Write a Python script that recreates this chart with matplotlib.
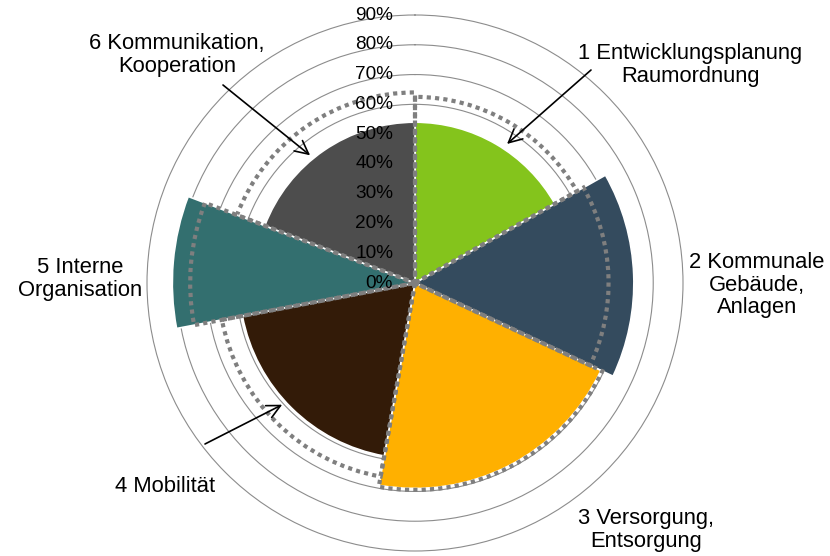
import matplotlib.pyplot as plt
import numpy as np
from matplotlib.transforms import offset_copy

plt.rcParams['font.family'] = ['Liberation Sans', 'DejaVu Sans']

# eea-Massnahmenbereiche, Sektorbreite nach max. Punkten
labels = ['1 Entwicklungsplanung\nRaumordnung', '2 Kommunale\nGebäude,\nAnlagen',
          '3 Versorgung,\nEntsorgung', '4 Mobilität', '5 Interne\nOrganisation',
          '6 Kommunikation,\nKooperation']
max_points = [84, 76, 104, 96, 44, 96]
erreicht = [54, 73.5, 69, 59, 81.5, 54]       # gefuellte Sektoren (%)
vorher = [62.5, 65, 69.5, 66, 75.5, 64]        # gepunktete Linie (%)
colors = ['#84C41C', '#344B5E', '#FFB000', '#331B08', '#336F6F', '#4D4D4D']
rticks = [0, 10, 20, 30, 40, 50, 60, 70, 80, 90]

w = np.array(max_points) / sum(max_points) * 2 * np.pi
left = np.concatenate([[0], np.cumsum(w)[:-1]])

fig = plt.figure(figsize=(8.3, 5.56), dpi=100)
ax = fig.add_axes([147 / 830, 5 / 556, 536 / 830, 536 / 556], projection='polar')
ax.set_theta_zero_location('N')
ax.set_theta_direction(-1)
ax.set_ylim(0, 90)
ax.set_axisbelow(True)

ax.bar(left, erreicht, width=w, align='edge', color=colors, edgecolor='white', linewidth=1.2, zorder=2)
ax.bar(left, vorher, width=w, align='edge', fill=False, edgecolor='#7F7F7F',
       linewidth=3, linestyle=(0, (1, 1)), zorder=3)

ax.set_xticks([])
ax.set_yticks(rticks[1:-1])
ax.set_yticklabels([])
ax.yaxis.grid(True, color='#8C8C8C', linewidth=0.8)
ax.spines['polar'].set_color('#8C8C8C')
ax.spines['polar'].set_linewidth(0.8)

trans = offset_copy(ax.transData, fig=fig, x=-22, y=0, units='dots')
for r in rticks:
    ax.text(0, r, f'{r}%', transform=trans, ha='right', va='center', fontsize=13.7, zorder=5)

# Beschriftungen (Figure-Pixel) und Pfeile
label_pos = [(690, 491), (757, 271), (646, 26), (165, 69), (80, 277), (177, 501)]
for lab, (x, y) in zip(labels, label_pos):
    fig.text(x / 830, y / 556, lab, ha='center', va='center', multialignment='center',
             fontsize=15.8, linespacing=1.1)

arrows = [((33.5, 56), (591, 486)), ((320.6, 55.5), (223, 471)), ((227.5, 60.5), (205, 112))]
for (ang, r), tail in arrows:
    ax.annotate('', xy=(np.deg2rad(ang), r), xytext=tail, textcoords='figure pixels',
                arrowprops=dict(arrowstyle='->', color='black', lw=1.2,
                                mutation_scale=24, shrinkA=0, shrinkB=0), zorder=6)

fig.savefig('out.png', dpi=100)
